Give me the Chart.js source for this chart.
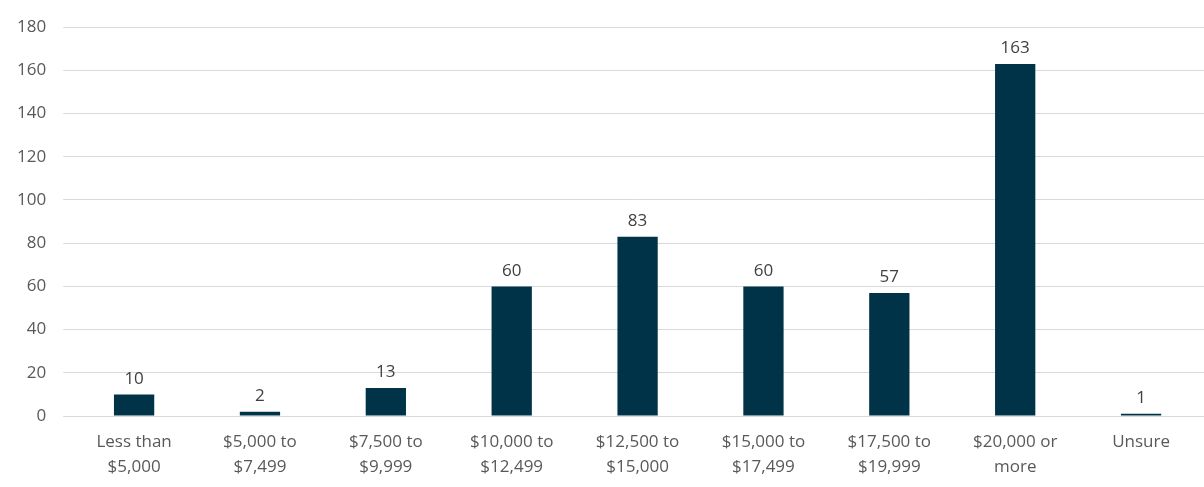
<!DOCTYPE html>
<html>
<head>
<script src="https://cdn.jsdelivr.net/npm/chart.js@4"></script>
<style>
  html, body { margin: 0; padding: 0; background: #fff; }
  #wrap { width: 1204px; height: 487px; }
</style>
</head>
<body>
<div id="wrap"><canvas id="c"></canvas></div>
<script>
const categories = [
  ["Less than", "$5,000"], ["$5,000 to", "$7,499"], ["$7,500 to", "$9,999"],
  ["$10,000 to", "$12,499"], ["$12,500 to", "$15,000"], ["$15,000 to", "$17,499"],
  ["$17,500 to", "$19,999"], ["$20,000 or", "more"], "Unsure"
];
const counts = [10, 2, 13, 60, 83, 60, 57, 163, 1];

// draw the value above each bar
const valueLabels = {
  id: "valueLabels",
  afterDatasetsDraw(chart) {
    const ctx = chart.ctx;
    ctx.save();
    ctx.font = "17px 'Open Sans', sans-serif";
    ctx.fillStyle = "#404040";
    ctx.textAlign = "center";
    ctx.textBaseline = "bottom";
    chart.getDatasetMeta(0).data.forEach((bar, i) => {
      ctx.fillText(counts[i], bar.x, bar.y - 7);
    });
    ctx.restore();
  }
};

const chart = new Chart(document.getElementById("c").getContext("2d"), {
  type: "bar",
  data: {
    labels: categories,
    datasets: [{
      data: counts,
      backgroundColor: "#003347",
      categoryPercentage: 1,
      barPercentage: 0.32
    }]
  },
  options: {
    responsive: true,
    maintainAspectRatio: false,
    animation: false,
    layout: { padding: { top: 5, right: 0, left: 0, bottom: 2 } },
    plugins: { legend: { display: false }, tooltip: { enabled: false } },
    scales: {
      x: {
        grid: { display: false },
        border: { color: "#d9d9d9" },
        ticks: { color: "#595959", font: { size: 17, family: "'Open Sans', sans-serif", lineHeight: 1.5 }, maxRotation: 0, autoSkip: false, padding: 5 }
      },
      y: {
        min: 0, max: 180,
        ticks: { stepSize: 20, color: "#595959", font: { size: 17, family: "'Open Sans', sans-serif" }, padding: 17 },
        grid: { color: "#d9d9d9" },
        border: { display: false }
      }
    }
  },
  plugins: [valueLabels]
});
</script>
</body>
</html>
